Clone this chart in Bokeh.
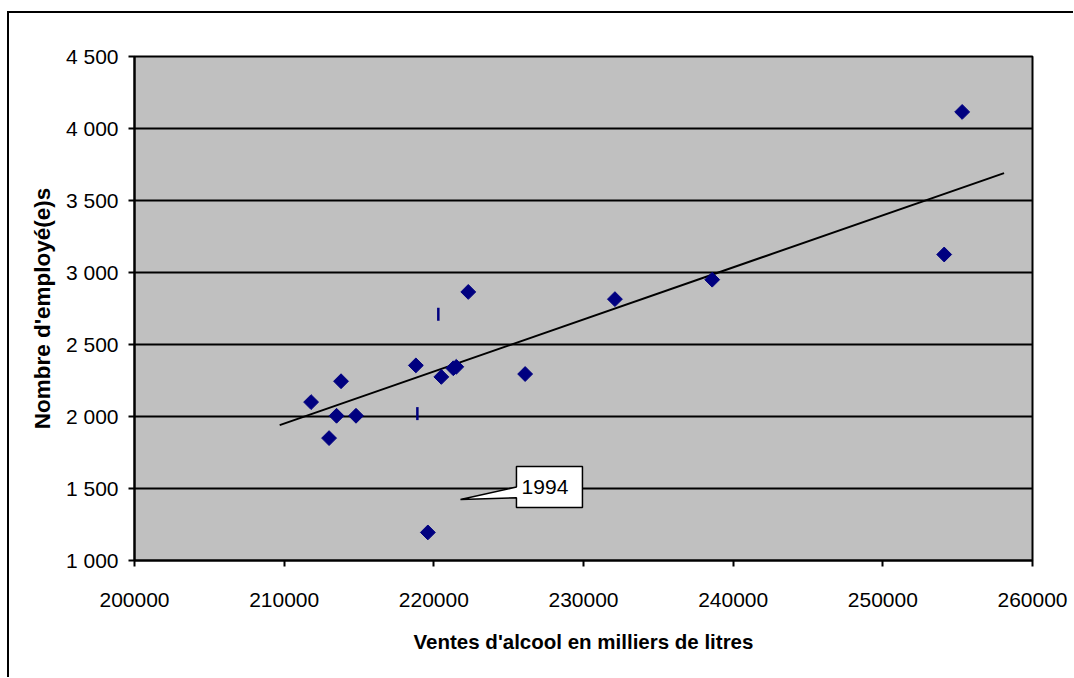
import math
from bokeh.plotting import figure
from bokeh.models import ColumnDataSource, FixedTicker, Label
from bokeh.embed import file_html
from bokeh.resources import INLINE

# ---- data ----
ventes = [211800, 213800, 213500, 214800, 213000, 218800, 220500, 221300,
          221500, 222300, 226100, 232100, 238600, 254100, 255300, 219600]
employes = [2100, 2245, 2005, 2005, 1850, 2355, 2275, 2335,
            2345, 2865, 2295, 2815, 2950, 3125, 4115, 1195]

# second series drawn as short vertical marks
ventes_b = [220300, 218900]
employes_b = [2710, 2020]

# linear trend line end points
trend_x = [209700, 258100]
trend_y = [1940, 3690]

x_ticks = [200000, 210000, 220000, 230000, 240000, 250000, 260000]
x_tick_labels = ["200000", "210000", "220000", "230000", "240000", "250000", "260000"]
y_ticks = [1000, 1500, 2000, 2500, 3000, 3500, 4000, 4500]
y_tick_labels = ["1 000", "1 500", "2 000", "2 500", "3 000", "3 500", "4 000", "4 500"]

callout_text = "1994"
callout_tip = (221780, 1424)
callout_box = (225520, 229930, 1368, 1653)  # x0, x1, y0, y1

FONT = "Liberation Sans"
NAVY = "#000080"

p = figure(width=1066, height=666, output_backend="svg", toolbar_location=None,
           x_range=(200000, 260000), y_range=(1000, 4500),
           min_border_left=125, min_border_top=43, min_border_right=43,
           min_border_bottom=119)
p.margin = (11, 0, 0, 7)
p.styles = {"border-left": "2px solid black", "border-top": "2px solid black"}

p.background_fill_color = "#C0C0C0"
p.border_fill_color = "white"
p.outline_line_color = "black"
p.outline_line_width = 2

p.xgrid.visible = False
p.ygrid.ticker = FixedTicker(ticks=y_ticks)
p.ygrid.grid_line_color = "black"
p.ygrid.grid_line_width = 2

for ax in (p.xaxis[0], p.yaxis[0]):
    ax.axis_line_color = "black"
    ax.axis_line_width = 2
    ax.major_tick_line_color = "black"
    ax.major_tick_line_width = 2
    ax.major_tick_out = 6
    ax.major_tick_in = 0
    ax.minor_tick_line_color = None
    ax.major_label_text_font = FONT
    ax.major_label_text_font_size = "21px"
    ax.major_label_text_color = "black"
    ax.axis_label_text_font = FONT
    ax.axis_label_text_font_style = "bold"
    ax.axis_label_text_color = "black"

p.xaxis.axis_label_text_font_size = "20.5px"
p.yaxis.axis_label_text_font_size = "22.5px"

p.xaxis.ticker = FixedTicker(ticks=x_ticks)
p.xaxis.major_label_overrides = {t: l for t, l in zip(x_ticks, x_tick_labels)}
p.yaxis.ticker = FixedTicker(ticks=y_ticks)
p.yaxis.major_label_overrides = {t: l for t, l in zip(y_ticks, y_tick_labels)}
p.xaxis.axis_label = "Ventes d'alcool en milliers de litres"
p.yaxis.axis_label = "Nombre d'employé(e)s"
p.xaxis.major_label_standoff = 26
p.xaxis.axis_label_standoff = 20
p.yaxis.major_label_standoff = 10
p.yaxis.axis_label_standoff = 8

# trend line
p.line(trend_x, trend_y, line_color="black", line_width=2)

# points
src = ColumnDataSource(dict(x=ventes, y=employes))
p.scatter("x", "y", source=src, marker="square", angle=math.pi / 4, size=10.5,
          fill_color=NAVY, line_color=NAVY)
src_b = ColumnDataSource(dict(x=ventes_b, y=employes_b))
p.scatter("x", "y", source=src_b, marker="dash", angle=math.pi / 2, size=13,
          line_color=NAVY, line_width=2.5)

# callout
x0, x1, y0, y1 = callout_box
tx, ty = callout_tip
ym = (y0 + y1) / 2
p.patch([x0, x1, x1, x0, x0, tx, x0],
        [y1, y1, y0, y0, ym - 75, ty, ym + 0],
        fill_color="white", line_color="black", line_width=1.5)
p.add_layout(Label(x=(x0 + x1) / 2 - 300, y=ym, text=callout_text,
                   text_font=FONT, text_font_size="21px", text_color="black",
                   text_align="center", text_baseline="middle"))

open("out.html", "w").write(file_html(p, INLINE))
